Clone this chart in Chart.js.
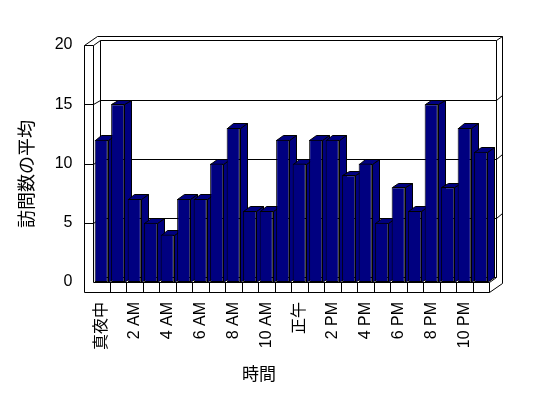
<!DOCTYPE html>
<html lang="ja">
<head>
    <meta charset="UTF-8">
    <title>訪問数の平均</title>
    <script src="https://cdn.jsdelivr.net/npm/chart.js"></script>
    <style>
        body { margin: 0; background: #fff; }
    </style>
</head>
<body>
    <canvas id="visits" width="548" height="398"></canvas>
<script>
    const categories = ["真夜中", "1 AM", "2 AM", "3 AM", "4 AM", "5 AM", "6 AM", "7 AM", "8 AM", "9 AM", "10 AM", "11 AM",
                        "正午", "1 PM", "2 PM", "3 PM", "4 PM", "5 PM", "6 PM", "7 PM", "8 PM", "9 PM", "10 PM", "11 PM"];
    const visits = [12, 15, 7, 5, 4, 7, 7, 10, 13, 6, 6, 12, 10, 12, 12, 9, 10, 5, 8, 6, 15, 8, 13, 11];
    const yTicks = [0, 5, 10, 15, 20];
    const xTitle = "時間";
    const yTitle = "訪問数の平均";

    const NAVY = "#000080";
    const ox = 6.7, oy = 4.7; // depth offset of the 3d box

    function px(v) { return Math.round(v) + 0.5; }

    // walls, floor, gridlines and the side/top faces of the bars
    const box3d = {
        id: "box3d",
        beforeDatasetsDraw(chart) {
            const c = chart.ctx;
            const a = chart.chartArea;
            const ys = chart.scales.y, xs = chart.scales.x;
            const L = a.left, R = a.right, T = a.top, B = a.bottom;
            const W = L - 9, F = B + 10;
            function line(pts) {
                c.beginPath();
                c.moveTo(px(pts[0][0]), px(pts[0][1]));
                for (let i = 1; i < pts.length; i++) c.lineTo(px(pts[i][0]), px(pts[i][1]));
                c.stroke();
            }
            c.save();
            c.strokeStyle = "#000";
            c.lineWidth = 1;

            // back wall
            line([[L + ox, B - oy], [L + ox, T - oy], [R + ox, T - oy], [R + ox, B - oy]]);
            line([[W + 2 * ox, T - 2 * oy], [R + 2 * ox, T - 2 * oy], [R + 2 * ox, F - 2 * oy]]);
            line([[R + ox, T - oy], [R + 2 * ox, T - 2 * oy]]);
            // left wall
            line([[W, T], [W, F], [R, F], [R, B]]);
            line([[L, T], [L, B], [R, B]]);
            line([[W, T], [L, T], [L + ox, T - oy]]);
            line([[W, T], [W + 2 * ox, T - 2 * oy]]);
            // floor
            line([[L + ox, B - oy], [R + ox, B - oy]]);
            line([[R, B], [R + ox, B - oy]]);
            line([[R, F], [R + 2 * ox, F - 2 * oy]]);
            for (let i = 1; i < categories.length; i++) {
                const bx = (xs.getPixelForTick(i - 1) + xs.getPixelForTick(i)) / 2;
                line([[bx, B], [bx, F]]);
            }
            // gridlines
            yTicks.forEach(function (v) {
                if (v === yTicks[0] || v === yTicks[yTicks.length - 1]) return;
                const yy = ys.getPixelForValue(v);
                line([[W, yy], [L, yy], [L + ox, yy - oy], [R + ox, yy - oy], [R + 2 * ox, yy - 2 * oy]]);
            });

            // side and top of each bar, front is drawn by chart.js
            c.fillStyle = NAVY;
            chart.getDatasetMeta(0).data.forEach(function (bar) {
                const l = bar.x - bar.width / 2, r = bar.x + bar.width / 2;
                const t = bar.y, b = bar.base;
                const side = [[r, t], [r + ox, t - oy], [r + ox, b - oy], [r, b]];
                const top = [[l, t], [l + ox, t - oy], [r + ox, t - oy], [r, t]];
                [side, top].forEach(function (p) {
                    c.beginPath();
                    c.moveTo(px(p[0][0]), px(p[0][1]));
                    for (let i = 1; i < p.length; i++) c.lineTo(px(p[i][0]), px(p[i][1]));
                    c.closePath();
                    c.fill();
                    c.stroke();
                });
            });
            c.restore();
        },
        afterDraw(chart) {
            const c = chart.ctx;
            c.save();
            c.fillStyle = "#000";
            c.textAlign = "center";
            c.textBaseline = "middle";
            c.font = "17px 'Noto Sans CJK JP'";
            c.fillText(xTitle, 259, 374);
            c.font = "18px 'Noto Sans CJK JP'";
            c.translate(26, 174);
            c.rotate(-Math.PI / 2);
            c.fillText(yTitle, 0, 0);
            c.restore();
        }
    };

    const ctx = document.getElementById("visits");
    new Chart(ctx, {
        type: "bar",
        data: {
            labels: categories,
            datasets: [{
                label: yTitle,
                data: visits,
                backgroundColor: NAVY,
                borderColor: "#000",
                borderWidth: 1,
                borderSkipped: false,
                barPercentage: 0.8,
                categoryPercentage: 1.0
            }]
        },
        options: {
            responsive: false,
            animation: false,
            layout: { padding: { left: 0, top: 45, right: 59, bottom: 0 } },
            plugins: { legend: { display: false }, tooltip: { enabled: false } },
            scales: {
                x: {
                    grid: { display: false, drawTicks: false },
                    border: { display: false },
                    ticks: {
                        autoSkip: false,
                        minRotation: 90,
                        maxRotation: 90,
                        padding: 20,
                        color: "#000",
                        font: { family: "'Liberation Sans', 'Noto Sans CJK JP'", size: 16 },
                        callback: function (val, i) { return i % 2 === 0 ? categories[i] : ""; }
                    },
                    afterFit: function (scale) { scale.height = 116; }
                },
                y: {
                    min: 0,
                    max: 20,
                    grid: { display: false, drawTicks: false },
                    border: { display: false },
                    ticks: {
                        stepSize: 5,
                        padding: 20.5,
                        color: "#000",
                        font: { family: "'Liberation Sans'", size: 16 }
                    },
                    afterFit: function (scale) { scale.width = 93; }
                }
            }
        },
        plugins: [box3d]
    });
</script>
</body>
</html>
